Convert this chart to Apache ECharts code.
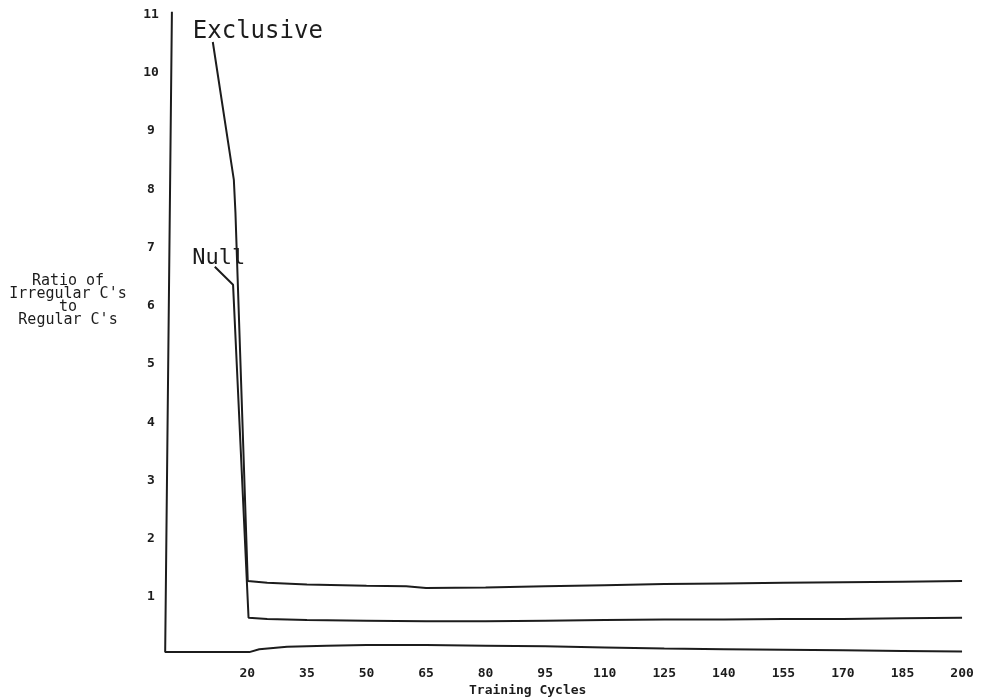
<!DOCTYPE html>
<html>
<head>
<meta charset="utf-8">
<script src="https://cdn.jsdelivr.net/npm/echarts@6/dist/echarts.min.js"></script>
<style>
html,body{margin:0;padding:0;background:#fff;}
#chart{width:986px;height:699px;}
</style>
</head>
<body>
<div id="chart"></div>
<script>
// Data: [training cycle, ratio]
const exclusiveData = [[11.3,10.53],[16.6,8.16],[17.0,7.6],[20.1,1.27],[25,1.24],[35,1.21],[50,1.19],[60,1.18],[65,1.15],[80,1.16],[95,1.18],[110,1.20],[125,1.22],[140,1.23],[155,1.24],[170,1.25],[185,1.26],[200,1.27]];
const nullData = [[11.8,6.67],[16.4,6.36],[20.3,0.64],[25,0.62],[35,0.60],[50,0.59],[65,0.58],[80,0.58],[95,0.59],[110,0.60],[125,0.61],[140,0.61],[155,0.62],[170,0.62],[185,0.63],[200,0.64]];
const baseData = [[1.0,11.05],[-0.7,0.05],[20.5,0.05],[23,0.10],[30,0.14],[40,0.16],[50,0.17],[65,0.17],[80,0.16],[95,0.15],[110,0.13],[125,0.11],[140,0.10],[155,0.09],[170,0.08],[185,0.07],[200,0.06]];
const xTickLabels = [20,35,50,65,80,95,110,125,140,155,170,185,200];
const yTickLabels = [1,2,3,4,5,6,7,8,9,10,11];
const seriesNames = ['Exclusive','Null',''];
const xTitle = 'Training Cycles';
const yTitle = "Ratio of\nIrregular C's\nto\nRegular C's";

const ink = '#1c1c1c';
const mono = '"DejaVu Sans Mono", "Liberation Mono", monospace';

function lineSeries(name, data, labelOffset, labelSize) {
  const s = {
    name: name,
    type: 'line',
    data: data,
    showSymbol: false,
    clip: false,
    smooth: false,
    lineStyle: {color: ink, width: 2},
    silent: true
  };
  if (name) {
    s.markPoint = {
      silent: true,
      symbol: 'circle',
      symbolSize: 0,
      data: [{
        coord: data[0],
        label: {
          show: true, formatter: name, position: 'inside',
          offset: labelOffset, color: ink,
          fontFamily: mono, fontSize: labelSize
        }
      }]
    };
  }
  return s;
}

const chart = echarts.init(document.getElementById('chart'), null, {renderer: 'canvas'});
chart.setOption({
  backgroundColor: '#ffffff',
  animation: false,
  grid: {left: 160, right: 16, top: 3, bottom: 44},
  xAxis: {
    type: 'value', min: -2, max: 202,
    axisLine: {show: false}, axisTick: {show: false}, splitLine: {show: false},
    axisLabel: {
      customValues: xTickLabels, margin: 12, color: ink,
      fontFamily: mono, fontWeight: 'bold', fontSize: 13
    }
  },
  yAxis: {
    type: 'value', min: 0, max: 11.2,
    axisLine: {show: false}, axisTick: {show: false}, splitLine: {show: false},
    axisLabel: {
      customValues: yTickLabels, margin: 9, align: 'center', color: ink,
      fontFamily: mono, fontWeight: 'bold', fontSize: 13
    }
  },
  graphic: [
    {type: 'text', left: 527 - 58, top: 684,
     style: {text: xTitle, fill: ink, font: 'bold 13px ' + mono}},
    {type: 'text', x: 68, y: 275,
     style: {text: yTitle, fill: ink, font: '15px ' + mono, align: 'center', lineHeight: 13}}
  ],
  series: [
    lineSeries(seriesNames[0], exclusiveData, [45, -10], 24),
    lineSeries(seriesNames[1], nullData, [4, -8], 22),
    lineSeries(seriesNames[2], baseData, [0, 0], 12)
  ]
});
</script>
</body>
</html>
